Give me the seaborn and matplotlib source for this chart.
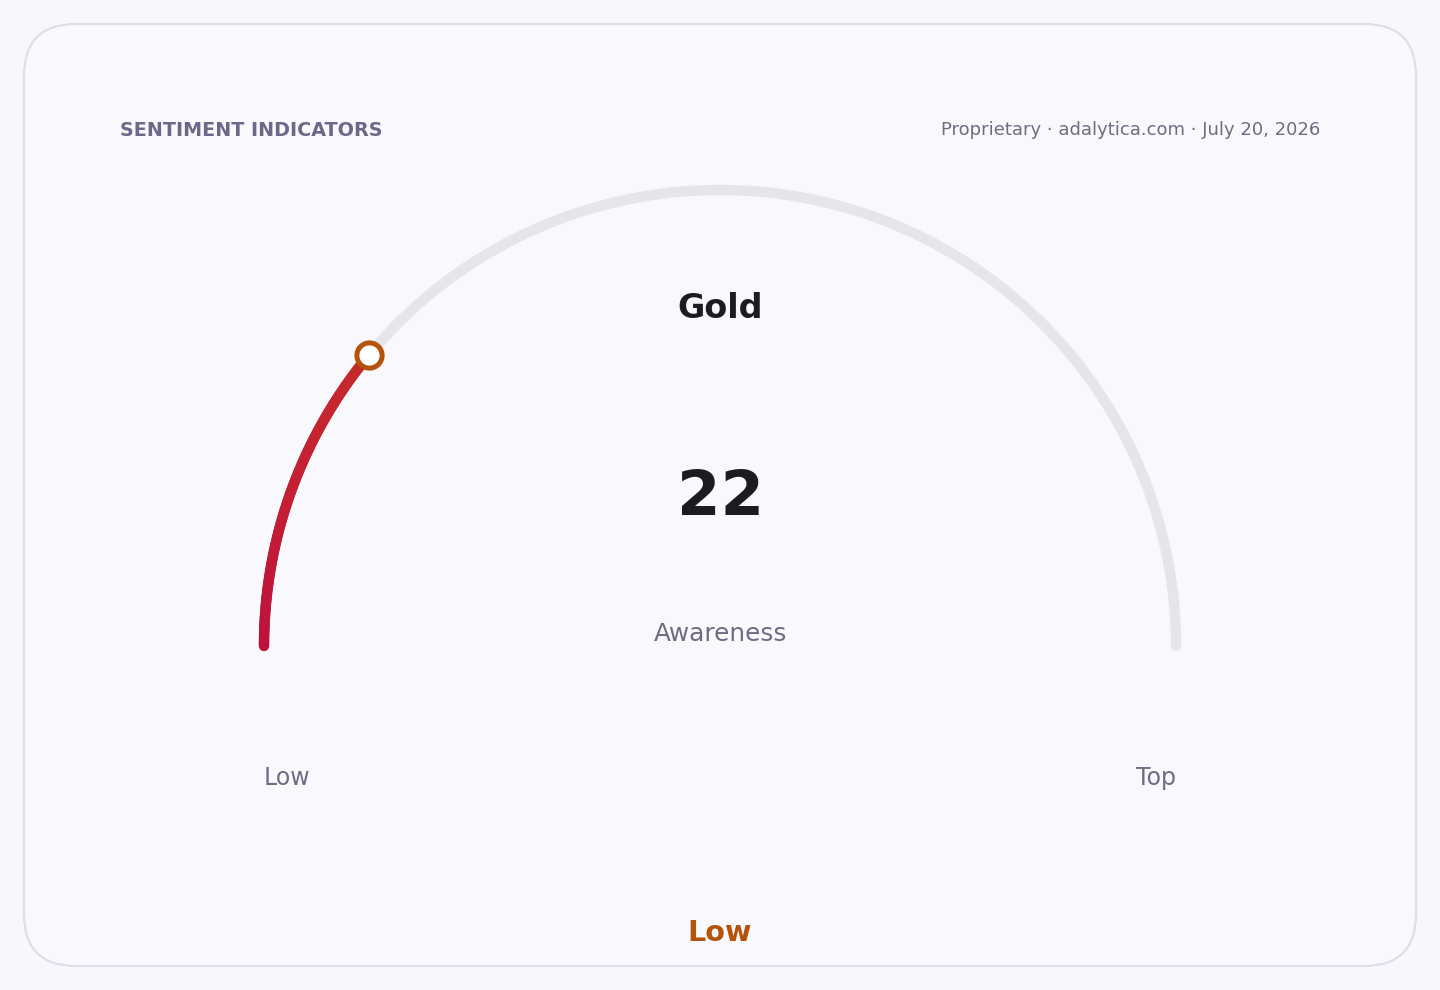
import numpy as np
import pandas as pd
import matplotlib
matplotlib.use("Agg")
from matplotlib import pyplot as plt
from matplotlib.collections import LineCollection
from matplotlib.colors import LinearSegmentedColormap
from matplotlib.patches import FancyBboxPatch
import seaborn as sns

# gauge data
gauge_min = 0
gauge_max = 100
gauge_value = 22
metric_name = "Gold"
metric_label = "Awareness"
band_label = "Low"
end_labels = ["Low", "Top"]
title_text = "SENTIMENT INDICATORS"
source_text = "Proprietary \u00b7 adalytica.com \u00b7 July 20, 2026"

sns.set_theme(style="white")
plt.rcParams['font.family'] = ['DejaVu Sans']

bg = "#f8f8fc"
fig = plt.figure(figsize=(14.4, 9.9), dpi=100, facecolor=bg)
ax = fig.add_axes([0, 0, 1, 1])
ax.set_xlim(0, 1440)
ax.set_ylim(990, 0)
ax.axis("off")
ax.set_facecolor(bg)

# card
card = FancyBboxPatch((24, 24), 1392, 942, boxstyle="round,pad=0,rounding_size=52",
                      facecolor="#f9f9fd", edgecolor="#dedeea", linewidth=1.6, zorder=0)
ax.add_patch(card)

cx, cy, r = 720, 646, 456

def to_angle(v):
    frac = (v - gauge_min) / (gauge_max - gauge_min)
    return np.pi * (1 - frac)

# grey track
t = np.linspace(0, np.pi, 300)
track = pd.DataFrame({"x": cx + r * np.cos(t), "y": cy - r * np.sin(t)})
sns.lineplot(data=track, x="x", y="y", sort=False, ax=ax, color="#e5e5ea",
             linewidth=7.5, solid_capstyle="round", zorder=1)

# value arc, crimson -> red gradient
tv = np.linspace(np.pi, to_angle(gauge_value), 120)
xs = cx + r * np.cos(tv)
ys = cy - r * np.sin(tv)
pts = np.column_stack([xs, ys]).reshape(-1, 1, 2)
segs = np.concatenate([pts[:-1], pts[1:]], axis=1)
cmap = LinearSegmentedColormap.from_list("g", ["#be123c", "#c41f34", "#c52a2a"])
lc = LineCollection(segs, cmap=cmap, linewidth=7.5, capstyle="round", zorder=2)
lc.set_array(np.linspace(0, 1, len(segs)))
ax.add_collection(lc)

# marker
ax.scatter([xs[-1]], [ys[-1]], s=330, facecolor="white", edgecolor="#b45309",
           linewidth=3.6, zorder=3)

# texts
ax.text(120, 130, title_text, fontsize=13.8, fontweight="bold", color="#6b6888",
        ha="left", va="center")
ax.text(1320, 130, source_text, fontsize=13, color="#6e6c82", ha="right", va="center")
ax.text(720, 309, metric_name, fontsize=24, fontweight="bold", color="#1c1b22",
        ha="center", va="center")
ax.text(720, 498, str(gauge_value), fontsize=45, fontweight="bold", color="#1c1b22",
        ha="center", va="center")
ax.text(720, 634, metric_label, fontsize=17.8, color="#6e6c82", ha="center", va="center")
ax.text(cx - r, 778, end_labels[0], fontsize=17, color="#6e6c82", ha="left", va="center")
ax.text(cx + r, 778, end_labels[1], fontsize=17, color="#6e6c82", ha="right", va="center")
ax.text(720, 933, band_label, fontsize=20.6, fontweight="bold", color="#b45309",
        ha="center", va="center")

fig.savefig("out.png", dpi=100, facecolor=bg)
plt.close(fig)
